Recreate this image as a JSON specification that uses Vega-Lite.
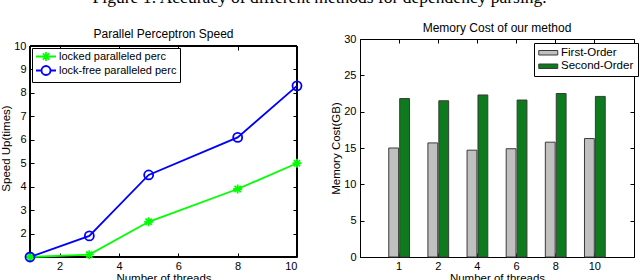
{
  "$schema": "https://vega.github.io/schema/vega-lite/v6.json",
  "padding": {"top": -11, "left": 0, "right": 2, "bottom": 0},
  "title": {
    "text": "Figure 1: Accuracy of different methods for dependency parsing.",
    "font": "Liberation Serif",
    "fontSize": 17.5,
    "fontWeight": "normal",
    "color": "#000000",
    "anchor": "middle",
    "offset": 15
  },
  "config": {
    "font": "Liberation Sans",
    "view": {"stroke": "#000000", "strokeWidth": 1},
    "axis": {
      "domainColor": "#000000",
      "tickColor": "#000000",
      "labelColor": "#000000",
      "titleColor": "#000000",
      "labelFont": "Liberation Sans",
      "titleFont": "Liberation Sans",
      "labelFontSize": 11,
      "titleFontSize": 11.5,
      "titleFontWeight": "normal",
      "grid": false,
      "tickSize": -4,
      "labelPadding": 8,
      "titlePadding": 2
    },
    "title": {"font": "Liberation Sans", "fontSize": 12, "fontWeight": "normal", "color": "#000000", "offset": -2},
    "legend": {"labelFont": "Liberation Sans", "labelFontSize": 11, "labelColor": "#000000"}
  },
  "datasets": {
    "speed": [
      {"threads": 1, "speedup": 1.0, "series": "locked paralleled perc"},
      {"threads": 3, "speedup": 1.1, "series": "locked paralleled perc"},
      {"threads": 5, "speedup": 2.5, "series": "locked paralleled perc"},
      {"threads": 8, "speedup": 3.9, "series": "locked paralleled perc"},
      {"threads": 10, "speedup": 5.0, "series": "locked paralleled perc"},
      {"threads": 1, "speedup": 1.0, "series": "lock-free paralleled perc"},
      {"threads": 3, "speedup": 1.9, "series": "lock-free paralleled perc"},
      {"threads": 5, "speedup": 4.5, "series": "lock-free paralleled perc"},
      {"threads": 8, "speedup": 6.1, "series": "lock-free paralleled perc"},
      {"threads": 10, "speedup": 8.3, "series": "lock-free paralleled perc"}
    ],
    "memory": [
      {"threads": "1", "order": "First-Order", "cost": 15.0},
      {"threads": "2", "order": "First-Order", "cost": 15.7},
      {"threads": "4", "order": "First-Order", "cost": 14.7},
      {"threads": "6", "order": "First-Order", "cost": 14.9},
      {"threads": "8", "order": "First-Order", "cost": 15.8},
      {"threads": "10", "order": "First-Order", "cost": 16.3},
      {"threads": "1", "order": "Second-Order", "cost": 21.8},
      {"threads": "2", "order": "Second-Order", "cost": 21.5},
      {"threads": "4", "order": "Second-Order", "cost": 22.3},
      {"threads": "6", "order": "Second-Order", "cost": 21.6},
      {"threads": "8", "order": "Second-Order", "cost": 22.5},
      {"threads": "10", "order": "Second-Order", "cost": 22.1}
    ]
  },
  "resolve": {
    "scale": {"color": "independent"},
    "legend": {"color": "independent"}
  },
  "spacing": 24,
  "hconcat": [
    {
      "width": 267,
      "height": 218,
      "view": {"stroke": "transparent"},
      "title": {"text": "Parallel Perceptron Speed", "dy": 0},
      "data": {"name": "speed"},
      "layer": [
        {
          "mark": {"type": "rect", "filled": false, "stroke": "#000000", "strokeWidth": 1},
          "encoding": {
            "x": {"datum": 1, "type": "quantitative", "axis": null},
            "x2": {"datum": 10},
            "y": {"datum": 1, "type": "quantitative", "axis": null},
            "y2": {"datum": 10}
          }
        },
        {
          "mark": {"type": "line", "strokeWidth": 1.8},
          "encoding": {
            "x": {"field": "threads", "type": "quantitative", "scale": {"domain": [1, 10], "nice": false, "zero": false},
                  "axis": {"values": [2, 4, 6, 8, 10], "title": "Number of threads", "titlePadding": 1, "labelPadding": 7}},
            "y": {"field": "speedup", "type": "quantitative", "scale": {"domain": [1, 10.2987], "nice": false, "zero": false},
                  "axis": {"values": [2, 3, 4, 5, 6, 7, 8, 9, 10], "title": "Speed Up(times)", "domain": false}},
            "color": {"field": "series", "type": "nominal",
                      "scale": {"domain": ["locked paralleled perc", "lock-free paralleled perc"], "range": ["#00FF00", "#0000FF"]},
                      "legend": {
                        "title": null,
                        "orient": "none",
                        "legendX": 2,
                        "legendY": 9,
                        "padding": 3,
                        "strokeColor": "#000000",
                        "fillColor": "#FFFFFF",
                        "symbolSize": 25,
                        "symbolOffset": 5.5,
                        "labelOffset": 7.5,
                        "rowPadding": -7,
                        "cornerRadius": 0,
                        "encode": {
                          "symbols": {
                            "update": {
                              "shape": {"signal": "datum.value === 'locked paralleled perc' ? 'M-4,0H4M-1.8,0H1.8M0,-1.8V1.8M-1.28,-1.28L1.28,1.28M-1.28,1.28L1.28,-1.28' : 'M-4,0H-1.8M1.8,0H4M-1.8,0A1.8,1.8 0 1,0 1.8,0A1.8,1.8 0 1,0 -1.8,0'"},
                              "strokeWidth": {"value": 1.8},
                              "fill": {"value": "transparent"}
                            }
                          }
                        }
                      }}
          }
        },
        {
          "transform": [{"filter": "datum.series === 'locked paralleled perc'"}],
          "mark": {"type": "point", "filled": false, "strokeWidth": 1.8, "size": 81, "opacity": 1, "color": "#00FF00",
                   "shape": "M-1,0H1M0,-1V1M-0.7,-0.7L0.7,0.7M-0.7,0.7L0.7,-0.7"},
          "encoding": {
            "x": {"field": "threads", "type": "quantitative", "axis": {"orient": "top", "offset": -7, "values": [2, 4, 6, 8, 10], "labels": false, "title": null, "domain": false, "labelPadding": 0}},
            "y": {"field": "speedup", "type": "quantitative", "axis": {"orient": "right", "values": [2, 3, 4, 5, 6, 7, 8, 9, 10], "labels": false, "title": null, "domain": false, "labelPadding": 0}}
          }
        },
        {
          "transform": [{"filter": "datum.series === 'lock-free paralleled perc'"}],
          "mark": {"type": "point", "filled": false, "strokeWidth": 1.8, "size": 81, "opacity": 1, "color": "#0000FF", "shape": "circle"},
          "encoding": {
            "x": {"field": "threads", "type": "quantitative", "axis": null},
            "y": {"field": "speedup", "type": "quantitative", "axis": null}
          }
        }
      ],
      "resolve": {"axis": {"x": "independent", "y": "independent"}}
    },
    {
      "width": 274,
      "height": 218,
      "title": {"text": "Memory Cost of our method"},
      "data": {"name": "memory"},
      "layer": [
        {
          "mark": {"type": "bar", "stroke": "#3a3a3a", "strokeWidth": 1},
          "encoding": {
            "x": {"field": "threads", "type": "nominal", "sort": ["1", "2", "4", "6", "8", "10"],
                  "scale": {"paddingInner": 0.47, "paddingOuter": 0.735},
                  "axis": {"title": "Number of threads", "labelAngle": 0, "titlePadding": 1, "labelPadding": 7}},
            "xOffset": {"field": "order", "type": "nominal", "sort": ["First-Order", "Second-Order"], "scale": {"paddingInner": 0.1}},
            "y": {"field": "cost", "type": "quantitative", "scale": {"domain": [0, 30], "nice": false},
                  "axis": {"values": [0, 5, 10, 15, 20, 25, 30], "title": "Memory Cost(GB)"}},
            "color": {"field": "order", "type": "nominal",
                      "scale": {"domain": ["First-Order", "Second-Order"], "range": ["#C0C0C0", "#0E7A1E"]},
                      "legend": {
                        "title": null,
                        "orient": "none",
                        "legendX": 174,
                        "legendY": 4,
                        "padding": 4,
                        "strokeColor": "#000000",
                        "fillColor": "#FFFFFF",
                        "symbolType": "M-1.9,-0.45H1.9V0.45H-1.9Z",
                        "symbolSize": 100,
                        "symbolOffset": 4.5,
                        "symbolStrokeColor": "#3a3a3a",
                        "symbolStrokeWidth": 1,
                        "labelFontSize": 11.5,
                        "labelOffset": 7,
                        "rowPadding": 0.5
                      }}
          }
        },
        {
          "mark": {"type": "point", "opacity": 0},
          "encoding": {
            "x": {"field": "threads", "type": "nominal", "sort": ["1", "2", "4", "6", "8", "10"],
                  "axis": {"orient": "top", "labels": false, "title": null, "domain": false, "labelPadding": 0}},
            "y": {"field": "cost", "type": "quantitative",
                  "axis": {"orient": "right", "values": [0, 5, 10, 15, 20, 25, 30], "labels": false, "title": null, "domain": false, "labelPadding": 0}}
          }
        }
      ],
      "resolve": {"axis": {"x": "independent", "y": "independent"}}
    }
  ]
}
